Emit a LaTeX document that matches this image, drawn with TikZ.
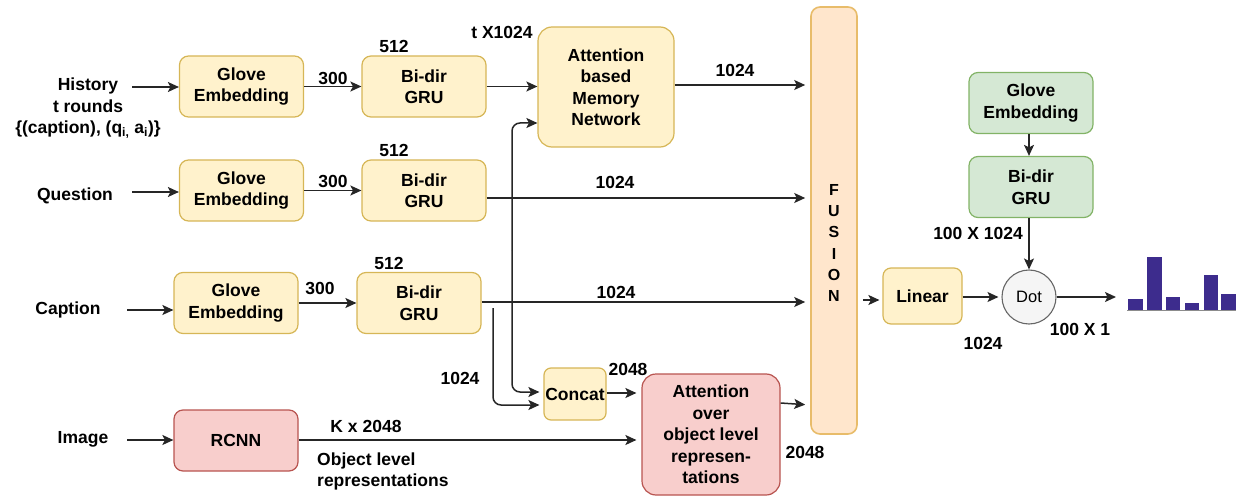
\documentclass[tikz,border=0pt]{standalone}
\usepackage{fontspec}
\setmainfont{Liberation Sans}
\usetikzlibrary{arrows.meta,calc}
\definecolor{yelfill}{HTML}{FFF2CC}
\definecolor{yeldraw}{HTML}{D6B656}
\definecolor{grnfill}{HTML}{D5E8D4}
\definecolor{grndraw}{HTML}{82B366}
\definecolor{redfill}{HTML}{F8CECC}
\definecolor{reddraw}{HTML}{B85450}
\definecolor{orgfill}{HTML}{FFE6CC}
\definecolor{orgdraw}{HTML}{E8BC6A}
\definecolor{barcol}{HTML}{3D2C8D}
\begin{document}
\begin{tikzpicture}[x=1pt,y=-1pt,
  font=\fontsize{17.5}{21.5}\selectfont\bfseries,
  box/.style={draw, rounded corners=9pt, line width=1.2pt, align=center, inner sep=0pt},
  yel/.style={box, fill=yelfill, draw=yeldraw},
  grn/.style={box, fill=grnfill, draw=grndraw},
  red/.style={box, fill=redfill, draw=reddraw},
  std/.style={minimum width=124pt, minimum height=61pt},
  arr/.style={-{Stealth[length=11pt,width=10pt,inset=2.5pt]}, line width=1.5pt, draw=black!85},
  lbl/.style={inner sep=0pt, align=center}
]
\useasboundingbox (0,0) rectangle (1236,497);

% input labels
\node[lbl] (hist) at (88,108.5) {History\\t rounds\\\{(caption), (q\textsubscript{i,} a\textsubscript{i})\}};
\node[lbl] (ques) at (75,196) {Question};
\node[lbl] (capt) at (68,310) {Caption};
\node[lbl] (imag) at (83,439) {Image};

% boxes
\node[yel, std] (hg) at (241.5,86.5) {Glove\\Embedding};
\node[yel, std] (qg) at (241.5,190.5) {Glove\\Embedding};
\node[yel, std] (cg) at (236,303) {Glove\\Embedding};
\node[red, std] (rc) at (236,440.5) {RCNN};
\node[yel, std] (hgru) at (424,86.5) {Bi-dir\\GRU};
\node[yel, std] (qgru) at (424,190.5) {Bi-dir\\GRU};
\node[yel, std] (cgru) at (419,303) {Bi-dir\\GRU};
\node[yel, minimum width=136pt, minimum height=120pt, rounded corners=14pt] (amn) at (606,87) {Attention\\based\\Memory\\Network};
\node[box, fill=orgfill, draw=orgdraw, line width=1.6pt, minimum width=46pt, minimum height=427pt] (fus) at (834,220.5) {};
\node[lbl, font=\fontsize{16}{21.2}\selectfont\bfseries] (fustext) at (834,243) {F\\U\\S\\I\\O\\N};
\node[yel, rounded corners=7pt, minimum width=62pt, minimum height=52pt] (cat) at (575,394) {Concat};
\node[red, minimum width=138pt, minimum height=121pt, rounded corners=14pt] (aobj) at (711,434.5) {Attention\\over\\object level\\represen-\\tations};
\node[grn, std] (gg) at (1031,103) {Glove\\Embedding};
\node[grn, std] (ggru) at (1031,187) {Bi-dir\\GRU};
\node[yel, rounded corners=8pt, minimum width=79pt, minimum height=56pt] (lin) at (922.5,296) {Linear};
\node[circle, draw=black!60, fill=black!4, line width=1.1pt, minimum size=54pt, inner sep=0pt,
      font=\fontsize{16.5}{19}\selectfont] (dot) at (1029,297) {Dot};

% coordinates
\coordinate (hs) at (132,87);
\coordinate (qs) at (132,192);
\coordinate (cs) at (127,310);
\coordinate (is) at (127,440);
\coordinate (jv) at (512,250);
\coordinate (cv) at (493,308);
\coordinate (chart) at (1116,297);

% input arrows
\draw[arr] (hs) -- (hs -| hg.west);
\draw[arr] (qs) -- (qs -| qg.west);
\draw[arr] (cs) -- (cs -| cg.west);
\draw[arr] (is) -- (is -| rc.west);

% glove -> gru
\draw[arr] (hg.east) -- (hgru.west);
\draw[arr] (qg.east) -- (qgru.west);
\draw[arr] (cg.east) -- (cgru.west);
\node[lbl] (l300a) at (333,78) {300};
\node[lbl] (l300b) at (333,181) {300};
\node[lbl] (l300c) at (320,288) {300};
\node[lbl] (l512a) at (394,46) {512};
\node[lbl] (l512b) at (394,150) {512};
\node[lbl] (l512c) at (389,263) {512};

% gru -> attention / fusion
\draw[arr] (hgru.east) -- (hgru.east -| amn.west);
\node[lbl] (ltx) at (502,32) {t X1024};
\draw[arr, shorten >=5pt] (amn.east |- 0,85) -- (fus.west |- 0,85);
\node[lbl] (l1024a) at (735,70) {1024};
\draw[arr, shorten >=5pt] (qgru.east |- 0,198) -- (fus.west |- 0,198);
\node[lbl] (l1024b) at (615,182) {1024};
\draw[arr, shorten >=5pt] (cgru.east |- 0,302) -- (fus.west |- 0,302);
\node[lbl] (l1024c) at (616,292) {1024};

% vertical connectors
\draw[arr, rounded corners=8pt] (jv) |- ($(amn.west)+(0,36)$);
\draw[arr, rounded corners=8pt, shorten >=4pt] (jv) |- (cat.west |- 0,392);
\draw[arr, rounded corners=8pt, shorten >=4pt] (cv) |- (cat.west |- 0,405);
\node[lbl] (l1024d) at (460,378) {1024};

% concat -> attention obj
\draw[arr, shorten >=5pt] (cat.east |- 0,393) -- (aobj.west |- 0,393);
\node[lbl] (l2048a) at (628,369) {2048};
\draw[arr, shorten >=5pt] (rc.east |- 0,440) -- (aobj.west |- 0,440);
\node[lbl] (lk) at (366,426) {K x 2048};
\node[lbl, anchor=west, align=left] (lobj) at (317,471.5) {Object level\\representations};
\draw[arr, shorten >=5pt] (aobj.east |- 0,403) -- (fus.west |- 0,405);
\node[lbl] (l2048b) at (805,452) {2048};

% right part
\draw[arr, shorten <=5pt, shorten >=3pt] (fus.east |- 0,300) -- (lin.west |- 0,300);
\draw[arr, shorten >=3pt] (lin.east |- 0,297) -- (dot.west);
\node[lbl] (l1024e) at (983,343) {1024};
\draw[arr] (dot.east) -- (chart);
\node[lbl] (l100x1) at (1080,329) {100 X 1};
\draw[arr] (gg.south -| dot.north) -- (ggru.north -| dot.north);
\draw[arr] (ggru.south -| dot.north) -- (dot.north);
\node[lbl] (l100x1024) at (978,233) {100 X 1024};

% bar chart
\fill[barcol] (1128,310) rectangle (1143,299);
\fill[barcol] (1147,310) rectangle (1162,257);
\fill[barcol] (1166,310) rectangle (1180,297);
\fill[barcol] (1185,310) rectangle (1199,303);
\fill[barcol] (1204,310) rectangle (1218,275);
\fill[barcol] (1221,310) rectangle (1236,294);
\draw[black!45, line width=1pt] (1127,310.5) -- (1236,310.5);
\end{tikzpicture}
\end{document}
